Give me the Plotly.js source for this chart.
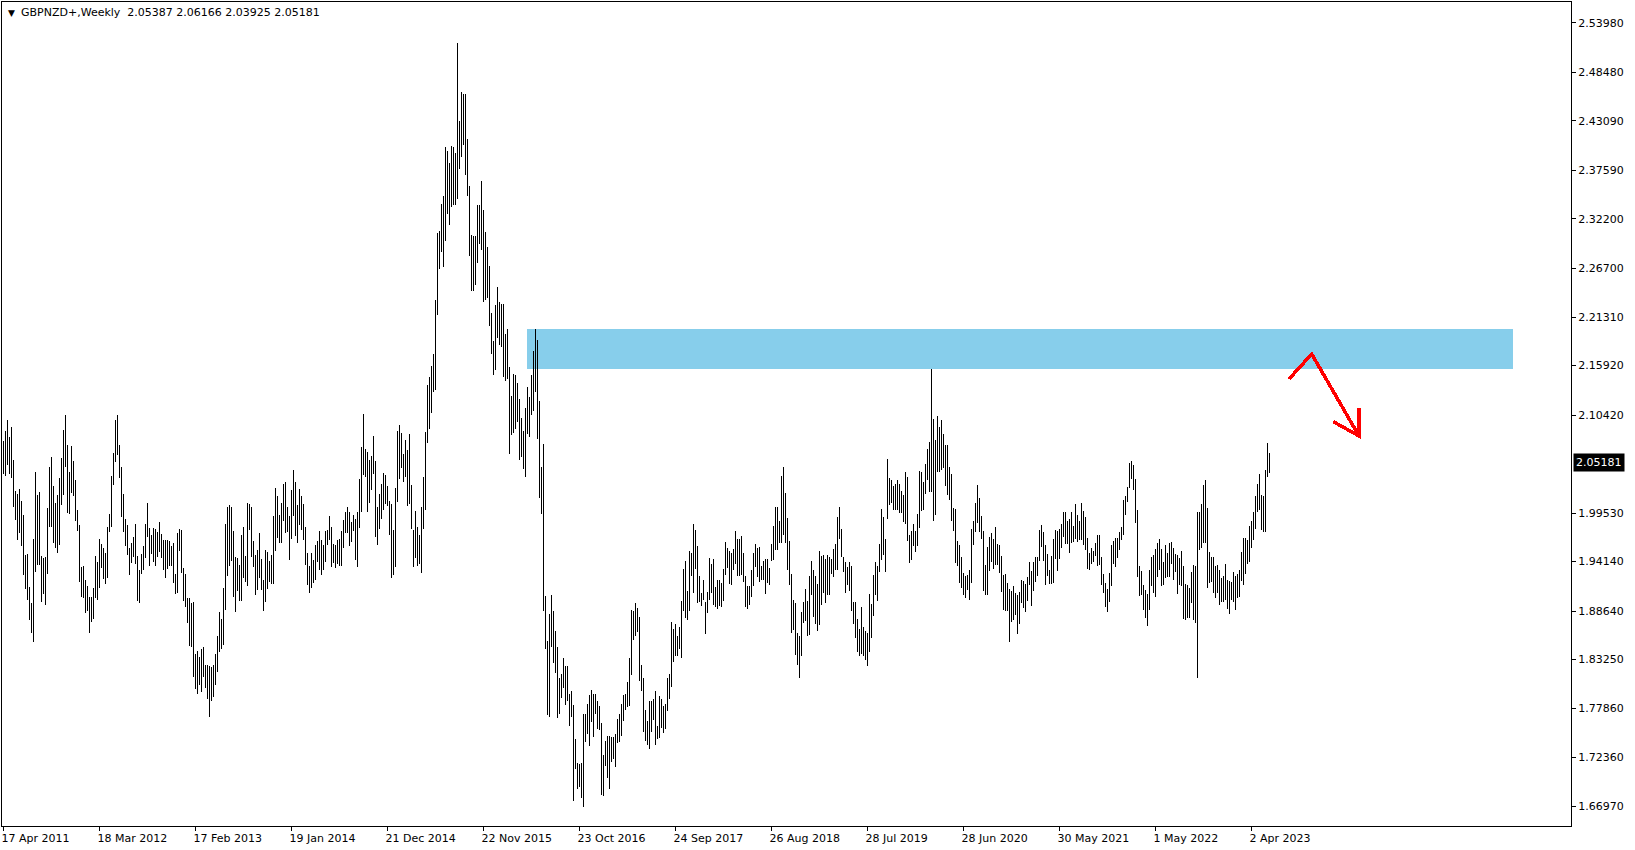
<!DOCTYPE html>
<html><head><meta charset="utf-8">
<script src="https://cdn.plot.ly/plotly-3.0.1.min.js"></script>
<style>
html,body{margin:0;padding:0;background:#fff;}
#chart{width:1635px;height:850px;}
.scatterlayer path{shape-rendering:crispEdges;}
</style>
</head><body><div id="chart"></div>
<script>
const SYMBOL = "GBPNZD+,Weekly";
const LAST_OHLC = [2.05387, 2.06166, 2.03925, 2.05181];

// Weekly bars from the week of 17 Apr 2011 (one value per week)
const HIGH = [
2.075,2.086,2.099,2.080,2.091,2.054,2.020,2.017,2.022,2.009,
1.993,1.949,1.950,1.913,1.895,1.966,2.041,2.015,2.019,1.948,
1.945,1.947,2.001,2.047,2.058,2.025,2.006,2.015,2.034,2.056,
2.088,2.104,2.071,2.041,2.070,2.053,2.032,1.999,1.982,1.935,
1.937,1.921,1.914,1.902,1.902,1.912,1.948,1.941,1.967,1.961,
1.956,1.951,1.980,1.994,2.036,2.062,2.099,2.104,2.071,2.047,
2.016,1.989,1.982,1.957,1.962,1.969,1.983,1.948,1.932,1.950,
1.959,1.983,2.007,1.979,1.971,1.979,1.978,1.974,1.985,1.972,
1.965,1.965,1.965,1.964,1.959,1.962,1.928,1.973,1.978,1.976,
1.934,1.928,1.901,1.901,1.895,1.896,1.839,1.842,1.835,1.844,
1.846,1.827,1.827,1.825,1.824,1.826,1.839,1.859,1.885,1.878,
1.912,1.983,2.002,2.004,2.002,1.975,1.947,1.945,1.938,1.971,
1.980,1.948,2.007,2.005,2.002,1.964,1.949,1.954,1.973,1.944,
1.921,1.954,1.952,1.942,1.949,1.992,2.023,2.014,1.993,2.006,
2.028,2.030,2.002,1.992,2.021,2.043,2.030,2.004,2.022,2.014,
2.005,1.980,1.951,1.936,1.951,1.943,1.960,1.964,1.975,1.965,
1.960,1.975,1.976,1.992,1.980,1.961,1.960,1.965,1.966,1.975,
1.988,1.996,2.002,1.996,1.985,1.993,1.989,1.996,2.033,2.069,
2.105,2.066,2.063,2.054,2.059,2.081,2.053,2.002,2.016,2.028,
2.040,2.038,2.025,2.009,2.005,1.977,2.023,2.086,2.093,2.084,
2.061,2.076,2.065,2.083,2.027,1.977,1.998,1.980,1.971,2.002,
2.035,2.085,2.138,2.147,2.159,2.172,2.232,2.306,2.309,2.339,
2.348,2.402,2.397,2.384,2.403,2.402,2.395,2.518,2.431,2.463,
2.461,2.461,2.411,2.359,2.304,2.303,2.303,2.338,2.338,2.364,
2.332,2.307,2.291,2.270,2.217,2.186,2.226,2.246,2.230,2.228,
2.227,2.194,2.200,2.158,2.125,2.150,2.149,2.140,2.122,2.101,
2.086,2.112,2.135,2.124,2.149,2.175,2.200,2.188,2.120,2.047,
2.072,1.903,1.853,1.883,1.904,1.887,1.864,1.846,1.812,1.817,
1.834,1.825,1.825,1.794,1.798,1.782,1.744,1.718,1.717,1.718,
1.772,1.772,1.783,1.793,1.799,1.794,1.794,1.787,1.781,1.762,
1.727,1.742,1.748,1.748,1.746,1.746,1.750,1.767,1.772,1.783,
1.793,1.794,1.808,1.834,1.888,1.887,1.895,1.890,1.880,1.827,
1.812,1.777,1.764,1.787,1.787,1.789,1.798,1.759,1.792,1.789,
1.781,1.783,1.812,1.817,1.874,1.867,1.872,1.859,1.869,1.898,
1.933,1.942,1.909,1.953,1.951,1.983,1.977,1.959,1.925,1.907,
1.921,1.897,1.908,1.945,1.939,1.944,1.913,1.921,1.921,1.918,
1.933,1.963,1.956,1.953,1.951,1.955,1.975,1.967,1.967,1.970,
1.951,1.925,1.914,1.914,1.932,1.951,1.961,1.956,1.958,1.936,
1.942,1.944,1.944,1.934,1.961,1.981,2.002,2.002,1.986,2.037,
2.047,2.018,1.990,1.964,1.928,1.899,1.895,1.862,1.859,1.885,
1.896,1.911,1.898,1.925,1.942,1.932,1.925,1.916,1.953,1.948,
1.949,1.944,1.949,1.947,1.944,1.955,1.961,1.991,2.002,1.978,
1.946,1.941,1.935,1.941,1.936,1.896,1.896,1.878,1.867,1.891,
1.869,1.864,1.862,1.905,1.894,1.926,1.941,1.936,1.961,2.000,
1.991,1.966,2.055,2.034,2.032,2.025,2.028,2.032,2.028,2.020,
2.015,2.041,2.035,1.971,1.975,1.983,1.975,1.994,2.042,2.041,
2.030,2.050,2.066,2.074,2.155,2.100,2.076,2.103,2.091,2.099,
2.083,2.071,2.071,2.047,2.039,2.001,2.000,1.964,1.960,1.947,
1.929,1.925,1.926,1.932,1.978,1.986,2.006,2.026,2.012,1.992,
1.975,1.938,1.958,1.969,1.973,1.967,1.980,1.961,1.960,1.948,
1.926,1.928,1.918,1.911,1.909,1.914,1.907,1.904,1.908,1.921,
1.920,1.916,1.924,1.941,1.931,1.941,1.946,1.946,1.976,1.982,
1.974,1.960,1.950,1.932,1.948,1.966,1.976,1.975,1.978,1.983,
1.996,1.996,1.986,1.989,1.996,1.981,2.005,1.993,1.986,2.006,
1.998,1.991,1.968,1.951,1.957,1.953,1.962,1.971,1.971,1.946,
1.928,1.918,1.911,1.929,1.960,1.964,1.968,1.968,1.974,1.980,
2.010,2.014,2.024,2.051,2.053,2.049,2.033,1.999,1.936,1.931,
1.915,1.910,1.905,1.932,1.947,1.949,1.955,1.962,1.967,1.955,
1.941,1.960,1.951,1.962,1.963,1.957,1.950,1.949,1.945,1.953,
1.937,1.916,1.915,1.912,1.930,1.938,1.936,1.997,1.997,2.005,
2.026,2.032,2.001,1.952,1.947,1.946,1.936,1.938,1.932,1.923,
1.925,1.939,1.921,1.920,1.919,1.930,1.925,1.928,1.932,1.952,
1.968,1.968,1.965,1.981,1.986,1.996,2.014,2.028,2.039,2.015,
2.014,2.043,2.073,2.06166
];
const LOW = [
2.039,2.036,2.049,2.039,2.034,2.002,1.988,1.965,1.973,1.959,
1.927,1.911,1.899,1.877,1.862,1.852,1.930,1.938,1.938,1.896,
1.905,1.893,1.928,1.980,1.980,1.962,1.956,1.951,1.960,2.004,
2.015,2.047,1.995,1.994,2.018,2.014,1.986,1.975,1.919,1.902,
1.901,1.884,1.886,1.862,1.874,1.878,1.901,1.899,1.912,1.934,
1.922,1.916,1.923,1.974,1.980,2.027,2.052,2.060,2.034,1.991,
1.974,1.959,1.949,1.926,1.940,1.946,1.939,1.898,1.895,1.928,
1.932,1.945,1.969,1.936,1.950,1.941,1.936,1.946,1.952,1.945,
1.932,1.923,1.933,1.936,1.936,1.918,1.905,1.907,1.953,1.929,
1.898,1.891,1.873,1.848,1.847,1.813,1.800,1.794,1.804,1.797,
1.813,1.801,1.789,1.769,1.786,1.791,1.804,1.819,1.841,1.844,
1.849,1.888,1.925,1.936,1.942,1.902,1.885,1.909,1.898,1.898,
1.923,1.919,1.914,1.976,1.947,1.935,1.904,1.910,1.923,1.910,
1.886,1.896,1.911,1.919,1.917,1.917,1.953,1.968,1.962,1.962,
1.986,1.973,1.974,1.943,1.966,1.992,1.970,1.962,1.982,1.976,
1.965,1.938,1.915,1.907,1.912,1.918,1.921,1.941,1.932,1.926,
1.932,1.941,1.960,1.965,1.935,1.940,1.934,1.939,1.936,1.936,
1.956,1.973,1.973,1.959,1.963,1.975,1.943,1.935,1.979,1.997,
2.038,2.035,1.996,2.007,2.021,2.039,1.969,1.960,1.978,1.989,
1.999,2.005,2.003,1.971,1.923,1.927,1.935,2.008,2.033,2.045,
2.030,2.035,2.003,2.005,1.978,1.935,1.945,1.936,1.939,1.929,
1.978,1.999,2.073,2.089,2.107,2.130,2.132,2.215,2.266,2.285,
2.269,2.297,2.328,2.315,2.335,2.337,2.337,2.344,2.378,2.391,
2.404,2.371,2.347,2.281,2.242,2.242,2.249,2.273,2.294,2.288,
2.230,2.232,2.234,2.203,2.172,2.149,2.154,2.190,2.182,2.180,
2.147,2.142,2.144,2.061,2.082,2.084,2.089,2.097,2.054,2.058,
2.044,2.035,2.083,2.080,2.104,2.109,2.130,2.078,2.012,1.994,
1.886,1.844,1.771,1.769,1.847,1.829,1.818,1.768,1.772,1.790,
1.801,1.782,1.787,1.759,1.769,1.675,1.711,1.689,1.691,1.679,
1.669,1.741,1.750,1.736,1.763,1.747,1.772,1.755,1.754,1.682,
1.681,1.714,1.701,1.689,1.719,1.722,1.713,1.740,1.741,1.748,
1.764,1.777,1.780,1.781,1.815,1.854,1.859,1.863,1.809,1.798,
1.752,1.742,1.738,1.733,1.752,1.765,1.738,1.744,1.745,1.757,
1.751,1.755,1.775,1.789,1.802,1.830,1.836,1.836,1.844,1.834,
1.886,1.879,1.877,1.887,1.925,1.907,1.933,1.895,1.897,1.892,
1.899,1.861,1.884,1.899,1.907,1.893,1.891,1.889,1.892,1.891,
1.898,1.927,1.934,1.916,1.915,1.932,1.939,1.925,1.925,1.927,
1.919,1.891,1.889,1.893,1.902,1.914,1.935,1.924,1.919,1.921,
1.921,1.905,1.918,1.915,1.942,1.943,1.954,1.954,1.962,1.962,
1.971,1.962,1.932,1.915,1.862,1.865,1.838,1.826,1.812,1.836,
1.873,1.875,1.859,1.860,1.904,1.880,1.872,1.864,1.871,1.893,
1.907,1.895,1.904,1.904,1.928,1.924,1.932,1.932,1.966,1.947,
1.930,1.907,1.915,1.909,1.886,1.872,1.857,1.841,1.836,1.839,
1.836,1.832,1.825,1.841,1.857,1.881,1.904,1.898,1.930,1.943,
1.949,1.930,1.989,2.004,2.006,1.999,1.999,1.999,1.995,1.995,
1.985,1.983,1.964,1.940,1.943,1.959,1.952,1.959,1.979,1.998,
1.999,2.016,2.032,2.019,2.019,1.986,1.993,2.041,2.041,2.043,
2.045,2.025,2.015,2.010,1.986,1.975,1.940,1.936,1.918,1.912,
1.904,1.901,1.910,1.899,1.918,1.960,1.974,1.984,1.974,1.966,
1.909,1.904,1.904,1.931,1.941,1.933,1.938,1.938,1.929,1.908,
1.888,1.886,1.886,1.852,1.874,1.877,1.882,1.861,1.872,1.895,
1.890,1.885,1.898,1.915,1.892,1.909,1.919,1.925,1.942,1.958,
1.942,1.915,1.925,1.916,1.917,1.918,1.944,1.931,1.944,1.957,
1.969,1.961,1.961,1.951,1.962,1.963,1.967,1.963,1.965,1.965,
1.960,1.954,1.933,1.932,1.939,1.941,1.948,1.937,1.938,1.915,
1.907,1.891,1.885,1.896,1.914,1.939,1.935,1.945,1.954,1.965,
1.971,1.993,2.008,2.023,2.033,2.021,1.984,1.924,1.903,1.904,
1.888,1.879,1.870,1.888,1.914,1.907,1.902,1.924,1.932,1.914,
1.915,1.923,1.924,1.924,1.939,1.921,1.930,1.905,1.915,1.914,
1.878,1.877,1.879,1.879,1.895,1.876,1.873,1.812,1.954,1.956,
1.962,1.962,1.912,1.918,1.919,1.906,1.901,1.906,1.893,1.896,
1.896,1.899,1.889,1.883,1.899,1.897,1.888,1.901,1.902,1.920,
1.915,1.928,1.939,1.941,1.956,1.965,1.978,1.996,1.999,1.976,
1.974,1.974,2.035,2.03925
];

const DATE_LABELS = ["17 Apr 2011","18 Mar 2012","17 Feb 2013","19 Jan 2014","21 Dec 2014","22 Nov 2015","23 Oct 2016","24 Sep 2017","26 Aug 2018","28 Jul 2019","28 Jun 2020","30 May 2021","1 May 2022","2 Apr 2023"];
const DATE_LABEL_BARS = [0,48,96,144,192,240,288,336,384,432,480,528,576,624];
const PRICE_TICKS = [2.53980,2.48480,2.43090,2.37590,2.32200,2.26700,2.21310,2.15920,2.10420,1.99530,1.94140,1.88640,1.83250,1.77860,1.72360,1.66970];

// drawn objects (bar-index / price coordinates)
const ZONE = {x0: 261.75, x1: 754.75, y0: 2.1553, y1: 2.1998};
const ARROW_LINE = {x: [642.75, 654.1, 677.75], y: [2.1442, 2.1720, 2.0809]};
const ARROW_HEAD = {x: [664.9, 677.75, 677.75], y: [2.0968, 2.0809, 2.1123]};

const FONT = "DejaVu Sans";

const xs = [], ys = [];
for (let i = 0; i < HIGH.length; i++) {
  xs.push(i, i, null);
  ys.push(LOW[i], HIGH[i], null);
}

const traces = [
  {type: 'scatter', mode: 'lines', x: xs, y: ys, line: {color: '#000000', width: 1},
   hoverinfo: 'skip', showlegend: false, connectgaps: false},
  {type: 'scatter', mode: 'lines', x: ARROW_LINE.x, y: ARROW_LINE.y,
   line: {color: '#ff0000', width: 3.5}, hoverinfo: 'skip', showlegend: false},
  {type: 'scatter', mode: 'lines', x: ARROW_HEAD.x, y: ARROW_HEAD.y,
   line: {color: '#ff0000', width: 3.5}, hoverinfo: 'skip', showlegend: false}
];

const layout = {
  width: 1635, height: 850,
  margin: {l: 2, r: 64, t: 2, b: 24, pad: 0},
  paper_bgcolor: '#ffffff', plot_bgcolor: '#ffffff',
  font: {family: FONT, size: 11, color: '#000000'},
  showlegend: false,
  xaxis: {
    range: [-0.75, 783.75], showgrid: false, zeroline: false,
    showline: true, linecolor: '#000000', linewidth: 1, mirror: true,
    tickmode: 'array', tickvals: DATE_LABEL_BARS, ticktext: DATE_LABELS,
    ticks: 'outside', ticklen: 4, tickcolor: '#000000', tickwidth: 1,
    ticklabelposition: 'outside right', ticklabelshift: -3, ticklabelstandoff: 2,
    tickfont: {family: FONT, size: 11, color: '#000000'},
    fixedrange: true
  },
  yaxis: {
    side: 'right', range: [1.64766, 2.56302], showgrid: false, zeroline: false,
    showline: true, linecolor: '#000000', linewidth: 1, mirror: true,
    tickmode: 'array', tickvals: PRICE_TICKS, ticktext: PRICE_TICKS.map(v => v.toFixed(5)),
    ticks: 'outside', ticklen: 4, tickcolor: '#000000', tickwidth: 1,
    tickfont: {family: FONT, size: 11, color: '#000000'},
    fixedrange: true
  },
  shapes: [
    {type: 'rect', xref: 'x', yref: 'y', x0: ZONE.x0, x1: ZONE.x1, y0: ZONE.y0, y1: ZONE.y1,
     fillcolor: '#87ceeb', line: {width: 0}, layer: 'below'}
  ],
  annotations: [
    {xref: 'paper', yref: 'paper', x: 0, y: 1, xanchor: 'left', yanchor: 'middle',
     xshift: 4, yshift: -11, text: '\u25BC', showarrow: false,
     font: {family: FONT, size: 9, color: '#000000'}},
    {xref: 'paper', yref: 'paper', x: 0, y: 1, xanchor: 'left', yanchor: 'middle',
     xshift: 17, yshift: -10.5, showarrow: false,
     text: SYMBOL + '\u00a0\u00a0' + LAST_OHLC.map(v => v.toFixed(5)).join('\u00a0'),
     font: {family: FONT, size: 11, color: '#000000'}},
    {xref: 'paper', yref: 'y', x: 1, y: LAST_OHLC[3], xanchor: 'left', yanchor: 'middle',
     xshift: 2, showarrow: false, text: LAST_OHLC[3].toFixed(5),
     bgcolor: '#000000', borderpad: 2,
     font: {family: FONT, size: 11, color: '#ffffff'}}
  ]
};

Plotly.newPlot('chart', traces, layout, {displayModeBar: false, staticPlot: true});
</script>
</body></html>
